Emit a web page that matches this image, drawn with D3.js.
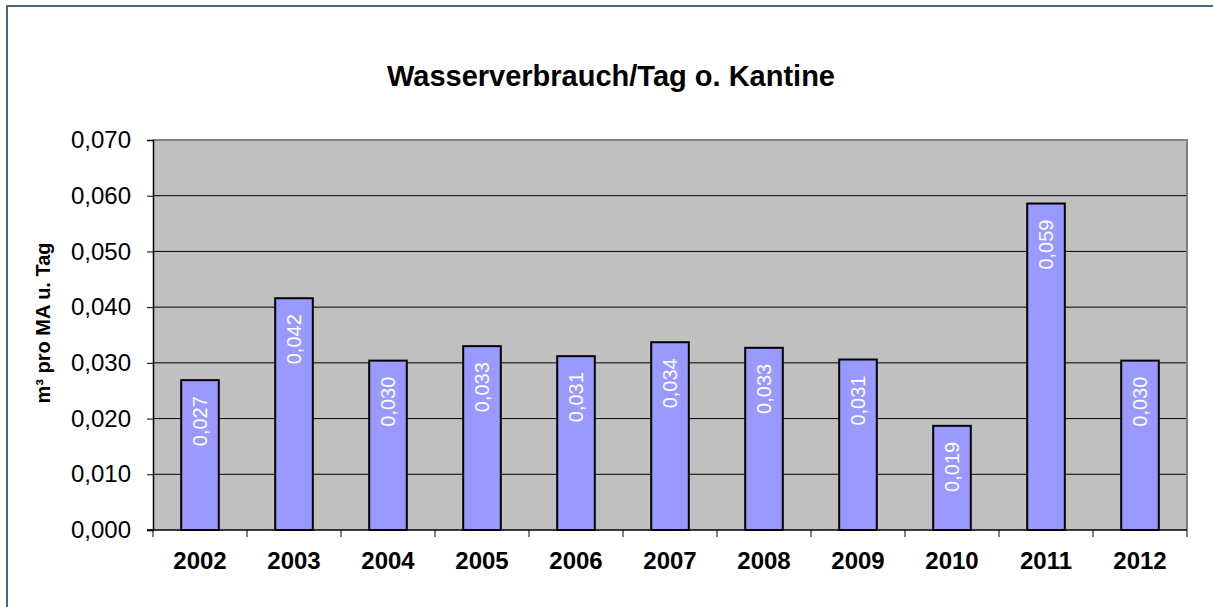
<!DOCTYPE html>
<html>
<head>
<meta charset="utf-8">
<script src="https://cdn.jsdelivr.net/npm/d3@7"></script>
<style>
  body { margin: 0; background: #fff; }
  text { font-family: "Liberation Sans", Arial, sans-serif; }
</style>
</head>
<body>
<div id="chart"></div>
<script>
// data
const years = ['2002', '2003', '2004', '2005', '2006', '2007', '2008', '2009', '2010', '2011', '2012'];
const verbrauch = [0.0269, 0.0416, 0.0304, 0.0330, 0.0312, 0.0337, 0.0327, 0.0306, 0.0187, 0.0586, 0.0304];
const yTicks = [0, 0.01, 0.02, 0.03, 0.04, 0.05, 0.06, 0.07];

const width = 1213, height = 607;
const margin = { top: 140, right: 26, bottom: 77, left: 153 };

const svg = d3.select('#chart').append('svg')
  .attr('width', width)
  .attr('height', height);

// outer frame (right & bottom run off the picture)
svg.append('rect')
  .attr('x', 7).attr('y', 6)
  .attr('width', 1220).attr('height', 620)
  .attr('fill', '#fff')
  .attr('stroke', '#406a80')
  .attr('stroke-width', 2);

const fmt = v => d3.format('.3f')(v).replace('.', ',');

let x = d3.scaleBand()
  .domain(years)
  .range([margin.left, width - margin.right])
  .paddingInner(0.6)
  .paddingOuter(0.3);

let y = d3.scaleLinear()
  .domain([0, 0.07])
  .range([height - margin.bottom, margin.top]);

// plot area
svg.append('rect')
  .attr('x', margin.left).attr('y', margin.top)
  .attr('width', width - margin.right - margin.left)
  .attr('height', height - margin.bottom - margin.top)
  .attr('fill', '#c0c0c0');

// gridlines
svg.append('g')
  .selectAll('line')
  .data(yTicks.slice(1, -1))
  .enter()
  .append('line')
  .attr('x1', margin.left).attr('x2', width - margin.right)
  .attr('y1', d => y(d)).attr('y2', d => y(d))
  .attr('stroke', '#000').attr('stroke-width', 1);

// top and right border of plot area
svg.append('path')
  .attr('d', `M${margin.left},${margin.top}H${width - margin.right}V${height - margin.bottom}`)
  .attr('fill', 'none')
  .attr('stroke', '#808080')
  .attr('stroke-width', 2);

// bars
svg.append('g')
  .selectAll('rect')
  .data(verbrauch)
  .enter()
  .append('rect')
  .attr('x', (d, i) => x(years[i]))
  .attr('y', d => y(d))
  .attr('width', x.bandwidth())
  .attr('height', d => y(0) - y(d))
  .attr('fill', '#9999ff')
  .attr('stroke', '#000')
  .attr('stroke-width', 2);

// value labels, rotated inside bars
svg.append('g')
  .selectAll('text')
  .data(verbrauch)
  .enter()
  .append('text')
  .attr('transform', (d, i) => `translate(${x(years[i]) + x.bandwidth() / 2 + 7},${y(d) + 16}) rotate(-90)`)
  .attr('text-anchor', 'end')
  .attr('fill', '#fff')
  .style('font-size', '20px')
  .text(d => fmt(d));

// y axis
let yAxis = d3.axisLeft(y)
  .tickValues(yTicks)
  .tickSize(6)
  .tickFormat(fmt);

svg.append('g')
  .attr('transform', `translate(${margin.left},0)`)
  .call(yAxis)
  .call(g => g.select('.domain').attr('stroke', '#000').attr('stroke-width', 1.5))
  .call(g => g.selectAll('.tick line').attr('stroke', '#000'))
  .call(g => g.selectAll('.tick text')
    .attr('x', -22)
    .attr('fill', '#000')
    .style('font-family', '"Liberation Sans", Arial, sans-serif')
    .style('font-size', '24px'));

// x axis: ticks at category boundaries
const step = x.step();
svg.append('g')
  .selectAll('line')
  .data(d3.range(years.length + 1))
  .enter()
  .append('line')
  .attr('x1', i => margin.left + i * step)
  .attr('x2', i => margin.left + i * step)
  .attr('y1', y(0)).attr('y2', y(0) + 7)
  .attr('stroke', '#000');

svg.append('line')
  .attr('x1', margin.left - 6).attr('x2', width - margin.right)
  .attr('y1', y(0)).attr('y2', y(0))
  .attr('stroke', '#000').attr('stroke-width', 1.5);

svg.append('g')
  .selectAll('text')
  .data(years)
  .enter()
  .append('text')
  .attr('x', d => x(d) + x.bandwidth() / 2)
  .attr('y', 569)
  .attr('text-anchor', 'middle')
  .style('font-size', '24px')
  .style('font-weight', 'bold')
  .text(d => d);

// title
svg.append('text')
  .attr('x', 611)
  .attr('y', 86)
  .attr('text-anchor', 'middle')
  .style('font-size', '29px')
  .style('font-weight', 'bold')
  .text('Wasserverbrauch/Tag o. Kantine');

// y axis title
svg.append('text')
  .attr('transform', 'translate(50,323) rotate(-90)')
  .attr('text-anchor', 'middle')
  .style('font-size', '20px')
  .style('font-weight', 'bold')
  .text('m³ pro MA u. Tag');
</script>
</body>
</html>
